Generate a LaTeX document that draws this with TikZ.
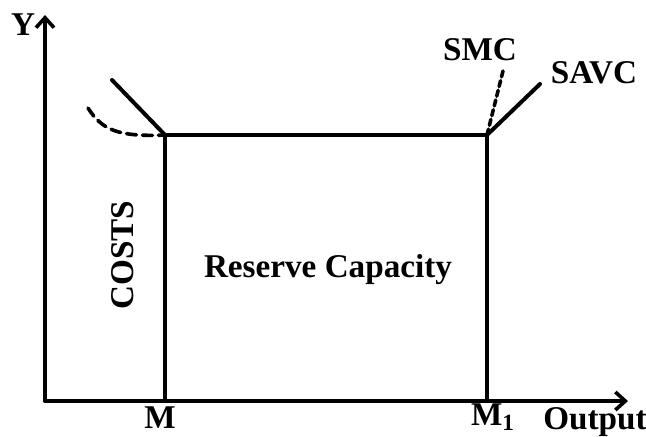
\documentclass[tikz,border=0pt]{standalone}
\usepackage{fontspec}
\setmainfont{Liberation Serif}
\usetikzlibrary{
    arrows.meta,
    positioning
}

\begin{document}
\begin{tikzpicture}
    [x=0.5pt,y=-0.5pt,line cap=round,
    % Styles
    axes/.style={line width=1.8pt,-{Straight Barb[length=5pt,width=9pt,line width=1.8pt]}},
    cost line/.style={line width=2pt},
    smc line/.style={line width=1.8pt,dash pattern=on 3pt off 2pt},
    label text/.style={font=\bfseries\fontsize{16.6}{19}\selectfont,inner sep=1pt}]

    \useasboundingbox (0,0) rectangle (646,436);

    % Points
    \coordinate (origin) at (45,401);
    \coordinate (y top) at (45,15);
    \coordinate (x end) at (628,401);
    \coordinate (M) at (165,401);
    \coordinate (M1) at (487,401);
    \coordinate (A) at (165,135);
    \coordinate (B) at (487,135);

    % The axes
    \draw[axes] (origin) -- (y top);
    \draw[axes] (origin) -- (x end);
    \node[label text] (ylabel) at (23,25) {Y};
    \node[label text] (mlabel) at (160,418) {M};
    \node[label text] (m1label) at (493,417) {M\textsubscript{1}};
    \node[label text] (outlabel) at (595,422) {Output};

    % The capacity box
    \draw[cost line] (M) -- (A) -- (B) -- (M1);
    \node[label text] (reserve) at (328,270) {Reserve Capacity};
    \node[label text,rotate=90] (costs) at (123,255) {COSTS};

    % Cost curves
    \coordinate (left top) at (112,80);
    \coordinate (dash start) at (88,108);
    \coordinate (savc end) at (540,84);
    \coordinate (smc end) at (503,71);
    \draw[cost line] (left top) -- (A);
    \draw[cost line,dash pattern=on 5pt off 3pt,line width=1.8pt]
        (dash start) .. controls (102,130) and (118,137) .. (A);
    \draw[cost line] (B) -- (savc end);
    \draw[smc line] (B) -- (smc end);
    \node[label text] (smc) at (480,50) {SMC};
    \node[label text] (savc) at (594,73) {SAVC};
\end{tikzpicture}
\end{document}
